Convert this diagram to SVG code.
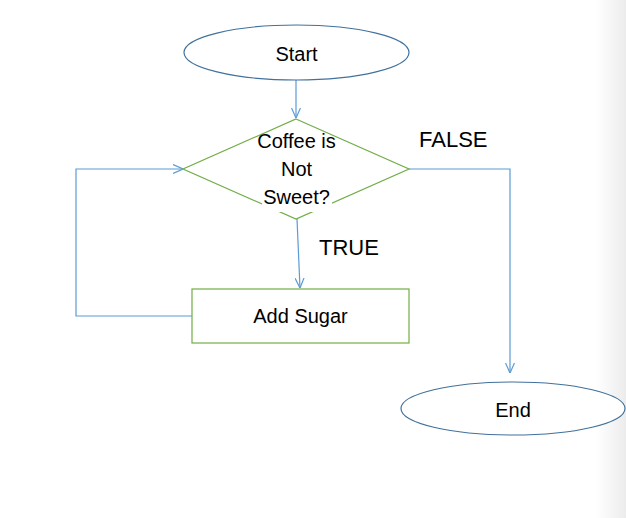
<svg xmlns="http://www.w3.org/2000/svg" width="626" height="518" viewBox="0 0 626 518">
<style>
.term{fill:#fff;stroke:#41719C;stroke-width:1.2}
.proc{fill:#fff;stroke:#70AD47;stroke-width:1.2}
.conn{fill:none;stroke:#5B9BD5;stroke-width:1.2}
.t{font-family:"Liberation Sans",Arial,sans-serif;font-size:20px;fill:#000;text-anchor:middle}
.lbl{font-family:"Liberation Sans",Arial,sans-serif;font-size:22px;fill:#000}
</style>
<defs>
<marker id="arr" viewBox="0 0 10 10" refX="10" refY="5" markerWidth="10" markerHeight="10" markerUnits="userSpaceOnUse" orient="auto">
<path d="M0,0.5 L10,5 L0,9.5" fill="none" stroke="#5B9BD5" stroke-width="1.2"/>
</marker>
<linearGradient id="edge" x1="0" y1="0" x2="1" y2="0">
<stop offset="0" stop-color="#fff"/>
<stop offset="1" stop-color="#ececec"/>
</linearGradient>
</defs>
<rect width="626" height="518" fill="#fff"/>
<rect x="596" y="0" width="30" height="518" fill="url(#edge)"/>
<g id="connectors">
<path class="conn" d="M296,80 L296,118" marker-end="url(#arr)"/>
<path class="conn" d="M297,219 L300,288" marker-end="url(#arr)"/>
<path class="conn" d="M192,316 L76,316 L76,169 L183,169" marker-end="url(#arr)"/>
<path class="conn" d="M409,169 L510,169 L510,373" marker-end="url(#arr)"/>
</g>
<g id="start">
<ellipse class="term" cx="296.5" cy="52.5" rx="112.5" ry="27.5"/>
<text class="t" x="296.5" y="61">Start</text>
</g>
<g id="decision">
<polygon class="proc" points="296,119 409,169 296,219 183,169"/>
<rect x="262" y="186" width="70" height="26" fill="#fff"/>
<text class="t" x="296.5" y="148">Coffee is</text>
<text class="t" x="296.5" y="176">Not</text>
<text class="t" x="296.5" y="204">Sweet?</text>
</g>
<g id="add-sugar">
<rect class="proc" x="192" y="289" width="217" height="54"/>
<text class="t" x="300.5" y="323">Add Sugar</text>
</g>
<g id="end">
<ellipse class="term" cx="513" cy="408.5" rx="112" ry="26.5"/>
<text class="t" x="513" y="417">End</text>
</g>
<g id="labels">
<text class="lbl" x="419" y="147">FALSE</text>
<text class="lbl" x="319" y="255">TRUE</text>
</g>
</svg>
